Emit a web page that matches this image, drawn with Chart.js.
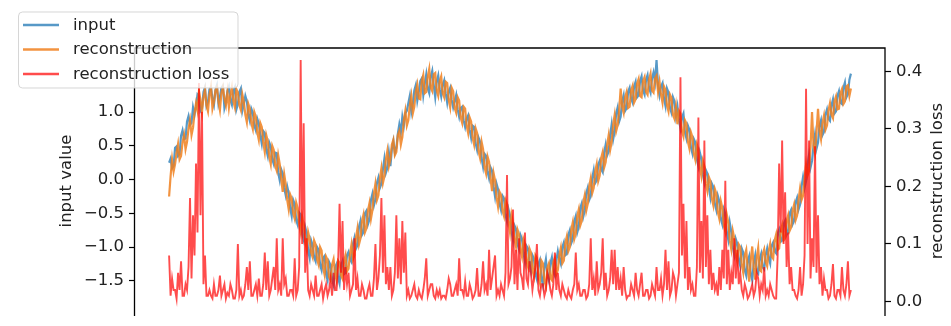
<!DOCTYPE html>
<html>
<head>
<meta charset="utf-8">
<script src="https://cdn.jsdelivr.net/npm/chart.js@4.4.1/dist/chart.umd.min.js"></script>
<style>
  html, body { margin: 0; padding: 0; background: #fff; overflow: hidden; }
  canvas { display: block; }
</style>
</head>
<body>
<canvas id="c" width="951" height="329" style="width:951px;height:329px"></canvas>
<script>
// ---- data ----
const seriesLabels = ['input', 'reconstruction', 'reconstruction loss'];

const inputValues = [
  0.25, 0.31, 0.17, 0.20, 0.47, 0.49, 0.35, 0.38, 0.65, 0.73, 0.60, 0.61, 0.86, 0.94, 0.81, 0.84, 1.07, 0.96, 1.08, 1.26,
  1.23, 1.02, 1.06, 1.30, 1.37, 1.09, 1.15, 1.34, 1.37, 1.20, 1.11, 1.33, 1.40, 1.13, 1.23, 1.36, 1.39, 1.06, 1.15, 1.31,
  1.38, 1.18, 1.11, 1.32, 1.37, 1.04, 1.12, 1.30, 1.35, 1.02, 1.12, 1.24, 1.16, 0.96, 0.87, 1.05, 0.99, 0.80, 0.73, 0.90,
  0.83, 0.66, 0.53, 0.72, 0.69, 0.45, 0.35, 0.55, 0.49, 0.30, 0.23, 0.40, 0.39, 0.10, -0.01, 0.15, 0.09, -0.12, -0.23, -0.10,
  -0.20, -0.42, -0.54, -0.30, -0.36, -0.60, -0.67, -0.49, -0.52, -0.80, -0.89, -0.70, -0.79, -1.05, -1.16, -0.90, -0.97, -1.15, -1.21, -1.00,
  -1.04, -1.26, -1.34, -1.16, -1.13, -1.40, -1.49, -1.22, -1.27, -1.47, -1.56, -1.30, -1.25, -1.45, -1.54, -1.28, -1.21, -1.40, -1.38, -1.12,
  -1.07, -1.18, -1.22, -0.95, -0.86, -1.02, -0.97, -0.70, -0.61, -0.82, -0.78, -0.50, -0.46, -0.66, -0.59, -0.30, -0.21, -0.38, -0.29, -0.05,
  0.03, -0.12, -0.06, 0.15, 0.31, 0.10, 0.17, 0.40, 0.20, 0.45, 0.57, 0.40, 0.47, 0.68, 0.82, 0.70, 0.93, 0.80, 0.98, 1.02,
  1.13, 1.24, 1.00, 1.12, 1.32, 1.40, 1.17, 1.30, 1.46, 1.50, 1.25, 1.42, 1.56, 1.35, 1.28, 1.52, 1.61, 1.40, 1.22, 1.45,
  1.54, 1.34, 1.23, 1.40, 1.47, 1.28, 1.14, 1.30, 1.36, 1.18, 1.07, 1.16, 1.25, 1.04, 0.93, 1.06, 1.08, 0.88, 0.78, 0.90,
  0.95, 0.74, 0.62, 0.80, 0.78, 0.54, 0.44, 0.62, 0.56, 0.32, 0.19, 0.38, 0.35, 0.12, 0.02, 0.18, 0.13, -0.10, -0.25, -0.06,
  -0.14, -0.36, -0.45, -0.24, -0.28, -0.52, -0.62, -0.44, -0.53, -0.76, -0.90, -0.68, -0.73, -0.95, -1.03, -0.82, -0.88, -1.08, -1.21, -0.98,
  -1.02, -1.22, -1.35, -1.12, -1.17, -1.40, -1.48, -1.25, -1.19, -1.45, -1.56, -1.30, -1.18, -1.42, -1.50, -1.24, -1.15, -1.36, -1.42, -1.20,
  -1.06, -1.18, -1.25, -1.00, -0.93, -1.12, -1.10, -0.82, -0.75, -0.94, -0.88, -0.62, -0.54, -0.78, -0.70, -0.42, -0.35, -0.55, -0.46, -0.20,
  -0.12, -0.30, -0.24, 0.02, 0.14, -0.05, -0.01, 0.22, 0.28, 0.15, 0.11, 0.40, 0.52, 0.36, 0.42, 0.66, 0.82, 0.60, 0.72, 0.98,
  1.07, 0.86, 0.93, 1.16, 1.25, 1.02, 1.06, 1.30, 1.36, 1.20, 1.14, 1.38, 1.45, 1.22, 1.25, 1.46, 1.53, 1.32, 1.26, 1.48,
  1.55, 1.36, 1.29, 1.50, 1.59, 1.45, 1.77, 1.40, 1.25, 1.38, 1.43, 1.20, 1.09, 1.35, 1.29, 1.06, 0.99, 1.22, 1.16, 0.94,
  1.08, 0.88, 0.76, 0.92, 0.98, 0.70, 0.61, 0.80, 0.74, 0.48, 0.39, 0.60, 0.55, 0.30, 0.20, 0.40, 0.31, 0.08, -0.04, 0.14,
  0.09, -0.12, -0.26, -0.06, -0.11, -0.36, -0.45, -0.24, -0.32, -0.58, -0.66, -0.44, -0.51, -0.78, -0.89, -0.64, -0.77, -1.00, -1.11, -0.88,
  -0.95, -1.18, -1.28, -1.02, -1.08, -1.34, -1.42, -1.20, -1.13, -1.40, -1.49, -1.24, -1.12, -1.36, -1.39, -1.18, -1.10, -1.30, -1.33, -1.12,
  -1.02, -1.16, -1.24, -0.98, -0.93, -1.06, -1.09, -0.80, -0.74, -0.92, -0.90, -0.66, -0.61, -0.82, -0.78, -0.50, -0.45, -0.66, -0.61, -0.34,
  -0.27, -0.44, -0.37, -0.10, 0.04, -0.12, -0.02, 0.22, 0.37, 0.18, 0.28, 0.50, 0.67, 0.46, 0.55, 0.80, 0.88, 0.66, 0.71, 0.96,
  1.04, 0.90, 0.87, 1.10, 1.19, 0.98, 1.01, 1.24, 1.31, 1.14, 1.12, 1.36, 1.44, 1.22, 1.27, 1.48, 1.57
];

const reconstructionValues = [
  -0.25, 0.05, 0.30, 0.12, 0.23, 0.40, 0.53, 0.30, 0.35, 0.55, 0.66, 0.45, 0.56, 0.75, 0.88, 0.66, 0.77, 0.98, 1.13, 1.02,
  1.31, 1.18, 1.00, 1.22, 1.33, 1.10, 1.01, 1.26, 1.38, 1.05, 1.15, 1.32, 1.37, 1.16, 1.03, 1.28, 1.37, 1.20, 1.10, 1.30,
  1.07, 1.25, 1.37, 1.16, 1.07, 1.34, 1.29, 1.10, 1.03, 1.26, 1.15, 0.96, 0.85, 1.12, 1.05, 0.84, 0.75, 1.00, 0.93, 0.70,
  0.59, 0.84, 0.78, 0.55, 0.41, 0.66, 0.57, 0.34, 0.23, 0.50, 0.44, 0.20, 0.13, 0.36, 0.23, 0.02, -0.18, 0.08, -0.07, -0.30,
  -0.44, -0.22, -0.28, -0.50, -0.58, -0.34, -0.42, -0.66, -0.78, -0.55, -0.67, -0.90, -1.03, -0.78, -0.88, -1.08, -1.15, -0.90, -0.96, -1.18,
  -1.26, -1.00, -1.05, -1.30, -1.41, -1.14, -1.19, -1.44, -1.49, -1.26, -1.18, -1.40, -1.49, -1.20, -1.23, -1.42, -1.47, -1.22, -1.12, -1.36,
  -1.32, -1.10, -0.96, -1.18, -1.12, -0.86, -0.72, -0.96, -0.87, -0.62, -0.52, -0.78, -0.72, -0.46, -0.35, -0.58, -0.45, -0.20, -0.06, -0.30,
  -0.23, 0.02, 0.17, -0.05, 0.05, 0.30, 0.43, 0.20, 0.30, 0.52, 0.59, 0.36, 0.41, 0.66, 0.72, 0.52, 0.63, 0.88, 1.02, 0.80,
  0.88, 1.10, 1.24, 0.98, 1.08, 1.30, 1.41, 1.20, 1.19, 1.46, 1.55, 1.28, 1.30, 1.52, 1.64, 1.36, 1.31, 1.56, 1.58, 1.32,
  1.24, 1.46, 1.53, 1.28, 1.22, 1.45, 1.43, 1.18, 1.07, 1.36, 1.31, 1.06, 0.99, 1.22, 1.17, 0.92, 0.84, 1.08, 1.05, 0.80,
  0.69, 0.92, 0.86, 0.62, 0.52, 0.76, 0.69, 0.42, 0.32, 0.56, 0.45, 0.18, 0.09, 0.34, 0.26, 0.02, -0.17, 0.10, -0.01, -0.26,
  -0.40, -0.18, -0.23, -0.46, -0.54, -0.30, -0.36, -0.62, -0.78, -0.52, -0.64, -0.88, -0.99, -0.74, -0.81, -1.04, -1.14, -0.88, -0.95, -1.20,
  -1.29, -1.02, -1.08, -1.34, -1.43, -1.12, -1.16, -1.44, -1.53, -1.20, -1.24, -1.50, -1.58, -1.30, -1.24, -1.46, -1.49, -1.22, -1.16, -1.40,
  -1.34, -1.12, -1.01, -1.24, -1.20, -0.94, -0.84, -1.06, -1.00, -0.74, -0.63, -0.88, -0.80, -0.54, -0.44, -0.68, -0.61, -0.34, -0.23, -0.46,
  -0.36, -0.10, 0.02, -0.20, -0.12, 0.12, 0.23, -0.02, 0.06, 0.32, 0.41, 0.18, 0.26, 0.52, 0.66, 0.44, 0.56, 0.82, 0.96, 0.72,
  0.81, 1.02, 1.35, 1.08, 0.99, 1.22, 1.30, 1.06, 1.08, 1.32, 1.39, 1.14, 1.19, 1.42, 1.49, 1.24, 1.22, 1.46, 1.52, 1.30,
  1.26, 1.48, 1.57, 1.32, 1.29, 1.50, 1.54, 1.30, 1.45, 1.26, 1.14, 1.38, 1.33, 1.10, 1.01, 1.26, 1.21, 0.96, 0.90, 1.08,
  0.82, 1.02, 0.98, 0.72, 0.64, 0.88, 0.83, 0.56, 0.46, 0.70, 0.63, 0.38, 0.29, 0.52, 0.44, 0.18, 0.05, 0.28, 0.20, -0.06,
  -0.17, 0.04, -0.02, -0.28, -0.38, -0.14, -0.21, -0.48, -0.58, -0.32, -0.42, -0.68, -0.77, -0.52, -0.63, -0.90, -1.03, -0.76, -0.87, -1.10,
  -1.21, -0.96, -1.00, -1.26, -1.38, -1.12, -1.04, -1.32, -1.51, -1.20, -0.99, -1.30, -1.48, -1.16, -1.01, -1.34, -1.36, -1.10, -1.03, -1.22,
  -1.28, -1.06, -0.95, -1.14, -1.17, -0.90, -0.81, -1.04, -1.02, -0.78, -0.68, -0.90, -0.87, -0.62, -0.53, -0.76, -0.71, -0.46, -0.37, -0.60,
  -0.53, -0.30, -0.13, -0.30, -0.24, 0.02, 0.22, 0.06, 0.13, 0.48, 1.00, 0.50, 0.39, 0.70, 1.05, 0.72, 0.60, 0.84, 0.95, 0.74,
  0.80, 1.02, 1.13, 0.96, 0.91, 1.16, 1.23, 1.04, 1.05, 1.28, 1.34, 1.12, 1.16, 1.38, 1.40, 1.24, 1.35
];

const lossValues = [
  0.08, 0.01, 0.04, 0.02, 0.02, 0.005, 0.05, 0.02, 0.07, 0.01, 0.01, 0.03, 0.02, 0.06, 0.18, 0.04, 0.15, 0.08, 0.24, 0.12,
  0.38, 0.15, 0.33, 0.03, 0.08, 0.01, 0.01, 0.02, 0.01, 0.005, 0.03, 0.01, 0.01, 0.02, 0.045, 0.01, 0.02, 0.03, 0.005, 0.015,
  0.01, 0.03, 0.02, 0.005, 0.005, 0.02, 0.10, 0.01, 0.02, 0.005, 0.01, 0.03, 0.06, 0.02, 0.07, 0.01, 0.01, 0.02, 0.03, 0.01,
  0.04, 0.01, 0.01, 0.03, 0.085, 0.02, 0.07, 0.01, 0.02, 0.04, 0.06, 0.02, 0.11, 0.02, 0.03, 0.01, 0.11, 0.03, 0.04, 0.01,
  0.01, 0.02, 0.02, 0.01, 0.075, 0.01, 0.02, 0.06, 0.42, 0.10, 0.31, 0.05, 0.11, 0.02, 0.01, 0.03, 0.02, 0.01, 0.045, 0.01,
  0.01, 0.02, 0.03, 0.005, 0.02, 0.03, 0.01, 0.02, 0.04, 0.01, 0.05, 0.02, 0.02, 0.06, 0.17, 0.05, 0.14, 0.02, 0.06, 0.03,
  0.05, 0.01, 0.02, 0.03, 0.11, 0.02, 0.04, 0.01, 0.01, 0.03, 0.02, 0.005, 0.005, 0.02, 0.03, 0.01, 0.01, 0.04, 0.10, 0.02,
  0.04, 0.08, 0.18, 0.05, 0.15, 0.03, 0.06, 0.02, 0.06, 0.01, 0.02, 0.05, 0.15, 0.04, 0.11, 0.03, 0.14, 0.05, 0.12, 0.01,
  0.02, 0.005, 0.01, 0.02, 0.03, 0.01, 0.005, 0.02, 0.01, 0.005, 0.02, 0.04, 0.075, 0.01, 0.02, 0.03, 0.03, 0.01, 0.005, 0.02,
  0.01, 0.02, 0.005, 0.01, 0.01, 0.005, 0.02, 0.04, 0.03, 0.01, 0.01, 0.02, 0.03, 0.01, 0.075, 0.02, 0.02, 0.01, 0.035, 0.01,
  0.01, 0.03, 0.02, 0.005, 0.01, 0.02, 0.058, 0.01, 0.01, 0.03, 0.07, 0.02, 0.03, 0.01, 0.09, 0.02, 0.04, 0.06, 0.08, 0.01,
  0.02, 0.01, 0.03, 0.02, 0.01, 0.05, 0.22, 0.03, 0.04, 0.06, 0.16, 0.03, 0.09, 0.02, 0.11, 0.05, 0.04, 0.02, 0.12, 0.04,
  0.03, 0.07, 0.05, 0.02, 0.04, 0.06, 0.10, 0.02, 0.01, 0.03, 0.03, 0.01, 0.02, 0.05, 0.04, 0.02, 0.01, 0.03, 0.085, 0.02,
  0.05, 0.02, 0.01, 0.03, 0.02, 0.01, 0.005, 0.02, 0.01, 0.005, 0.02, 0.03, 0.085, 0.02, 0.03, 0.01, 0.01, 0.02, 0.02, 0.005,
  0.01, 0.03, 0.11, 0.02, 0.04, 0.01, 0.07, 0.02, 0.03, 0.05, 0.11, 0.02, 0.05, 0.01, 0.02, 0.04, 0.09, 0.03, 0.09, 0.02,
  0.06, 0.02, 0.04, 0.01, 0.06, 0.02, 0.005, 0.01, 0.01, 0.03, 0.02, 0.01, 0.05, 0.02, 0.01, 0.03, 0.05, 0.01, 0.01, 0.02,
  0.02, 0.005, 0.01, 0.03, 0.02, 0.01, 0.06, 0.02, 0.02, 0.04, 0.01, 0.03, 0.09, 0.02, 0.07, 0.01, 0.02, 0.05, 0.04, 0.01,
  0.03, 0.05, 0.39, 0.08, 0.17, 0.04, 0.14, 0.02, 0.06, 0.02, 0.03, 0.01, 0.01, 0.06, 0.32, 0.05, 0.14, 0.04, 0.28, 0.06,
  0.15, 0.03, 0.09, 0.02, 0.05, 0.02, 0.03, 0.01, 0.06, 0.02, 0.09, 0.04, 0.21, 0.03, 0.09, 0.02, 0.05, 0.03, 0.11, 0.04,
  0.09, 0.03, 0.05, 0.02, 0.01, 0.03, 0.02, 0.005, 0.01, 0.02, 0.03, 0.01, 0.02, 0.05, 0.04, 0.01, 0.03, 0.02, 0.06, 0.01,
  0.02, 0.01, 0.03, 0.02, 0.01, 0.005, 0.005, 0.08, 0.24, 0.12, 0.28, 0.10, 0.19, 0.06, 0.12, 0.03, 0.06, 0.02, 0.02, 0.01,
  0.005, 0.02, 0.06, 0.01, 0.03, 0.08, 0.37, 0.10, 0.28, 0.04, 0.11, 0.06, 0.27, 0.05, 0.15, 0.03, 0.06, 0.01, 0.04, 0.02,
  0.02, 0.005, 0.01, 0.03, 0.065, 0.01, 0.005, 0.02, 0.02, 0.01, 0.06, 0.02, 0.01, 0.03, 0.07, 0.01, 0.02
];

const leftTicks = [-1.5, -1.0, -0.5, 0.0, 0.5, 1.0];
const rightTicks = [0.0, 0.1, 0.2, 0.3, 0.4];
const leftTitle = 'input value';
const rightTitle = 'reconstruction loss';

// ---- styling ----
const FONT = '"DejaVu Sans", sans-serif';
const FSIZE = 16.5;
const colors = ['rgba(31,119,180,0.75)', 'rgba(240,128,30,0.85)', 'rgba(255,0,0,0.7)'];

const steps = inputValues.map((_, i) => i);
const n = steps.length - 1;
const toPts = (arr) => arr.map((v, i) => ({ x: steps[i], y: v }));

const fmt = (v) => v.toFixed(1).replace('-', '\u2212');

const decorPlugin = {
  id: 'decor',
  afterDraw(chart) {
    const ctx = chart.ctx;
    const a = chart.chartArea;
    ctx.save();
    // spines
    ctx.strokeStyle = '#000';
    ctx.lineWidth = 1.3;
    ctx.beginPath();
    ctx.moveTo(a.left - 0.5, a.bottom + 2);
    ctx.lineTo(a.left - 0.5, a.top);
    ctx.lineTo(a.right, a.top);
    ctx.lineTo(a.right, a.bottom + 2);
    ctx.stroke();

    // axis titles (both read bottom-to-top)
    ctx.fillStyle = '#222';
    ctx.font = FSIZE + 'px ' + FONT;
    ctx.textAlign = 'center';
    ctx.textBaseline = 'middle';
    const cy = (a.top + a.bottom) / 2;
    [[66.5, leftTitle], [937.5, rightTitle]].forEach(([x, t]) => {
      ctx.save();
      ctx.translate(x, cy);
      ctx.rotate(-Math.PI / 2);
      ctx.fillText(t, 0, 0);
      ctx.restore();
    });

    // legend
    const bx = 18.5, by = 12, bw = 219.5, bh = 76, r = 4;
    ctx.beginPath();
    ctx.moveTo(bx + r, by);
    ctx.lineTo(bx + bw - r, by);
    ctx.quadraticCurveTo(bx + bw, by, bx + bw, by + r);
    ctx.lineTo(bx + bw, by + bh - r);
    ctx.quadraticCurveTo(bx + bw, by + bh, bx + bw - r, by + bh);
    ctx.lineTo(bx + r, by + bh);
    ctx.quadraticCurveTo(bx, by + bh, bx, by + bh - r);
    ctx.lineTo(bx, by + r);
    ctx.quadraticCurveTo(bx, by, bx + r, by);
    ctx.closePath();
    ctx.fillStyle = 'rgba(255,255,255,0.8)';
    ctx.fill();
    ctx.strokeStyle = 'rgba(204,204,204,0.8)';
    ctx.lineWidth = 1;
    ctx.stroke();

    const rows = [25, 49.5, 74];
    chart.data.datasets.forEach((ds, i) => {
      const y = rows[i];
      ctx.strokeStyle = ds.borderColor;
      ctx.lineWidth = 2.5;
      ctx.beginPath();
      ctx.moveTo(23, y);
      ctx.lineTo(59, y);
      ctx.stroke();
      ctx.fillStyle = '#222';
      ctx.textAlign = 'left';
      ctx.textBaseline = 'middle';
      ctx.fillText(ds.label, 73, y + 0.5);
    });
    ctx.restore();
  }
};

const tickFont = { family: FONT, size: FSIZE };

new Chart(document.getElementById('c'), {
  type: 'line',
  data: {
    datasets: [
      { label: seriesLabels[0], data: toPts(inputValues), yAxisID: 'y', borderColor: colors[0], borderWidth: 2.2, pointRadius: 0, tension: 0, order: 2 },
      { label: seriesLabels[1], data: toPts(reconstructionValues), yAxisID: 'y', borderColor: colors[1], borderWidth: 2.2, pointRadius: 0, tension: 0, order: 1 },
      { label: seriesLabels[2], data: toPts(lossValues), yAxisID: 'y1', borderColor: colors[2], borderWidth: 1.9, pointRadius: 0, tension: 0, order: 0 }
    ]
  },
  options: {
    responsive: false,
    animation: false,
    devicePixelRatio: 1,
    events: [],
    layout: { padding: { top: 48, left: 0, right: 0, bottom: 0 } },
    plugins: { legend: { display: false }, tooltip: { enabled: false } },
    scales: {
      x: { type: 'linear', display: false, min: -0.05 * n, max: 1.05 * n },
      y: {
        position: 'left',
        min: -1.9916, max: 1.9495,
        afterBuildTicks: (s) => { s.ticks = leftTicks.map(v => ({ value: v })); },
        afterFit: (s) => { s.width = 135; },
        border: { display: false },
        grid: { drawOnChartArea: false, drawTicks: true, tickLength: 6, tickColor: '#000', tickWidth: 1.2 },
        ticks: { color: '#222', font: tickFont, padding: 5, callback: (v) => fmt(v) }
      },
      y1: {
        position: 'right',
        min: -0.0219, max: 0.4407,
        afterBuildTicks: (s) => { s.ticks = rightTicks.map(v => ({ value: v })); },
        afterFit: (s) => { s.width = 66; },
        border: { display: false },
        grid: { drawOnChartArea: false, drawTicks: true, tickLength: 6, tickColor: '#000', tickWidth: 1.2 },
        ticks: { color: '#222', font: tickFont, padding: 5, callback: (v) => fmt(v) }
      }
    }
  },
  plugins: [decorPlugin]
});
</script>
</body>
</html>
